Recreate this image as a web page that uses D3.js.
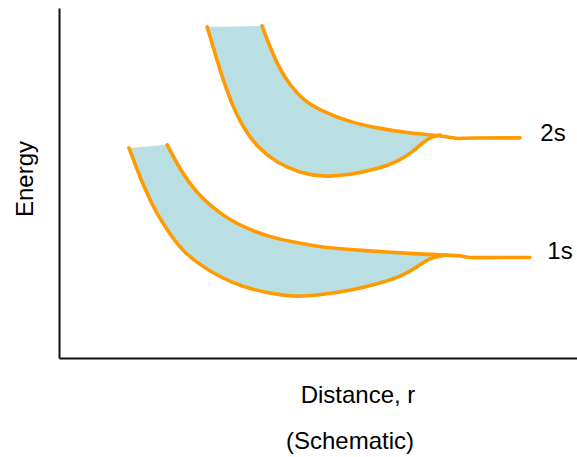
<!DOCTYPE html>
<html>
<head>
<meta charset="utf-8">
<script src="https://cdn.jsdelivr.net/npm/d3@7"></script>
<style>
  html, body { margin: 0; padding: 0; background: #fff; }
  svg { display: block; }
  text { font-family: "Liberation Sans", Arial, sans-serif; fill: #000; }
</style>
</head>
<body>
<svg id="chart" width="577" height="457"></svg>
<script>
// ---- Data (schematic units: distance 0-10, energy 0-10) ----
const upper2sX = [3.92,4.07,4.27,4.46,4.71,5.10,5.62,6.14,6.72,7.30,7.55,7.66,7.93,8.90];
const upper2sY = [9.49,8.89,8.23,7.80,7.37,7.03,6.74,6.57,6.43,6.36,6.31,6.26,6.29,6.29];
const lower2sX = [2.86,3.01,3.17,3.36,3.55,3.82,4.21,4.65,5.10,5.62,6.14,6.53,6.83,7.03,7.22,7.36];
const lower2sY = [9.46,8.71,7.94,7.17,6.60,6.03,5.57,5.29,5.17,5.23,5.40,5.60,5.89,6.17,6.34,6.37];
const join2s = 9;   // index on upper curve where lower curve meets it

const upper1sX = [2.09,2.34,2.66,2.97,3.30,3.69,4.07,4.52,5.04,5.68,6.33,6.97,7.45,7.74,7.93,8.13,9.09];
const upper1sY = [6.09,5.37,4.71,4.29,3.94,3.66,3.46,3.31,3.17,3.09,3.03,2.97,2.94,2.93,2.86,2.87,2.87];
const lower1sX = [1.35,1.47,1.58,1.70,1.83,1.99,2.18,2.39,2.72,3.11,3.55,4.02,4.52,5.04,5.68,6.20,6.58,6.91,7.16,7.36,7.49];
const lower1sY = [6.00,5.54,5.11,4.71,4.29,3.89,3.46,3.06,2.66,2.31,2.03,1.86,1.74,1.80,1.94,2.14,2.31,2.60,2.86,2.91,2.94];
const join1s = 12;

const bandLabels = ["2s", "1s"];
const xTitle = "Distance, r";
const yTitle = "Energy";
const note = "(Schematic)";

(function () {
  // ---- Layout ----
  const svg = d3.select("#chart");
  const mLeft = 59, mRight = 577, mTop = 8, mBottom = 358;
  const x = d3.scaleLinear().domain([0, 10]).range([mLeft, mRight]);
  const y = d3.scaleLinear().domain([0, 10]).range([mBottom, mTop]);

  const ORANGE = "#FF9A00";
  const FILL = "#BADFE3";

  const zip = (xs, ys) => xs.map((v, i) => [v, ys[i]]);
  const line = d3.line().x(d => x(d[0])).y(d => y(d[1])).curve(d3.curveBasis);

  const bands = [
    { upper: zip(upper2sX, upper2sY), lower: zip(lower2sX, lower2sY), join: join2s, label: bandLabels[0], lx: 553, ly: 141 },
    { upper: zip(upper1sX, upper1sY), lower: zip(lower1sX, lower1sY), join: join1s, label: bandLabels[1], lx: 560, ly: 259 }
  ];

  bands.forEach(b => {
    const lowerPath = line(b.lower);
    const upRev = b.upper.slice(0, b.join + 1).reverse();
    const upperRevPath = line(upRev).replace(/^M/, "L");
    svg.append("path")
      .attr("d", lowerPath + upperRevPath + "Z")
      .attr("fill", FILL)
      .attr("stroke", "none");
  });

  bands.forEach(b => {
    svg.append("path").attr("d", line(b.lower))
      .attr("fill", "none").attr("stroke", ORANGE).attr("stroke-width", 3.6)
      .attr("stroke-linecap", "round").attr("stroke-linejoin", "round");
    svg.append("path").attr("d", line(b.upper))
      .attr("fill", "none").attr("stroke", ORANGE).attr("stroke-width", 3.6)
      .attr("stroke-linecap", "round").attr("stroke-linejoin", "round");
    svg.append("text")
      .attr("x", b.lx).attr("y", b.ly)
      .attr("text-anchor", "middle")
      .attr("font-size", 24)
      .text(b.label);
  });

  // ---- Axes (no ticks) ----
  const xAxis = d3.axisBottom(x).tickValues([]).tickSizeOuter(0);
  const yAxis = d3.axisLeft(y).tickValues([]).tickSizeOuter(0);
  const gx = svg.append("g").attr("transform", `translate(0,${mBottom})`).call(xAxis);
  const gy = svg.append("g").attr("transform", `translate(${mLeft},0)`).call(yAxis);
  [gx, gy].forEach(g => g.select(".domain").attr("stroke", "#111").attr("stroke-width", 2));

  // ---- Titles ----
  svg.append("text").attr("x", 358).attr("y", 403).attr("text-anchor", "middle")
    .attr("font-size", 24).text(xTitle);
  svg.append("text").attr("x", 350).attr("y", 449).attr("text-anchor", "middle")
    .attr("font-size", 24).text(note);
  svg.append("text").attr("transform", "translate(33,179) rotate(-90)")
    .attr("text-anchor", "middle").attr("font-size", 24).text(yTitle);
})();
</script>
</body>
</html>
